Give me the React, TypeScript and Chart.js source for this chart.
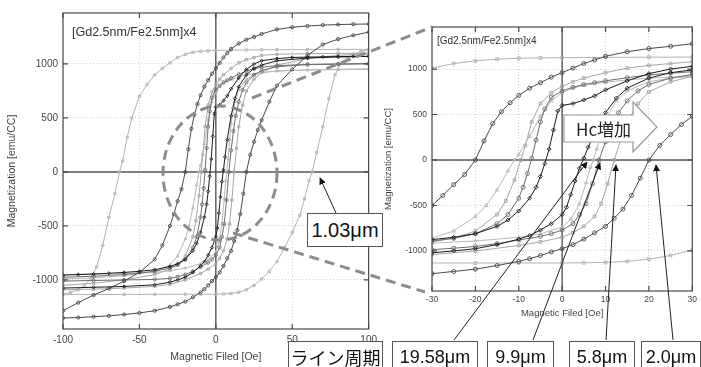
import React, { useEffect, useRef } from 'react';
import { Chart, registerables } from 'chart.js';

Chart.register(...registerables);

type P = [number, number];

// ---- Data: hysteresis loops, [H (Oe), M (emu/cc)] ----
// 19.58 μm line period (black)
const l1958Desc: P[] = [[100,1070],[90,1070],[80,1068],[70,1066],[60,1064],[50,1060],[40,1050],[30,1030],[25,1000],[20,950],[15,870],[10,770],[7.5,705],[5,660],[2.5,620],[0,600],[-1,540],[-2,330],[-3,120],[-4,-40],[-5,-180],[-6,-300],[-7.5,-420],[-10,-560],[-12.5,-660],[-15,-730],[-20,-810],[-25,-850],[-30,-875],[-40,-905],[-50,-920],[-60,-930],[-70,-938],[-80,-945],[-90,-950],[-100,-955]];
const l1958Asc: P[] = [[-100,-1075],[-80,-1068],[-60,-1060],[-40,-1045],[-30,-1020],[-25,-1000],[-20,-975],[-15,-930],[-10,-870],[-7.5,-830],[-5,-770],[-2.5,-700],[0,-600],[1,-520],[2,-380],[3,-230],[4,-90],[5,20],[6,140],[7.5,300],[10,520],[12.5,680],[15,790],[20,900],[25,960],[30,990],[40,1030],[60,1055],[80,1065],[100,1070]];
// 2.0 μm (dark gray)
const l20Desc: P[] = [[100,1370],[90,1368],[80,1365],[70,1360],[60,1352],[50,1340],[40,1320],[30,1278],[25,1250],[20,1225],[15,1190],[10,1140],[7.5,1100],[5,1060],[2.5,1010],[0,960],[-2.5,910],[-5,850],[-7.5,790],[-10,710],[-12,630],[-14,530],[-16,400],[-18,210],[-20,0],[-22.5,-160],[-25,-270],[-27.5,-390],[-30,-500],[-35,-680],[-40,-810],[-50,-930],[-60,-1010],[-70,-1080],[-80,-1140],[-90,-1210],[-100,-1285]];
const l20Asc: P[] = [[-100,-1352],[-90,-1348],[-80,-1340],[-70,-1332],[-60,-1320],[-50,-1305],[-40,-1285],[-30,-1250],[-25,-1225],[-20,-1200],[-15,-1160],[-10,-1115],[-7.5,-1085],[-5,-1050],[-2.5,-1010],[0,-975],[2.5,-930],[5,-870],[7.5,-800],[10,-730],[12,-640],[14,-540],[16,-390],[18,-200],[20,0],[22.5,160],[25,280],[27.5,390],[30,480],[35,650],[40,800],[50,950],[60,1080],[70,1180],[80,1230],[90,1265],[100,1295]];
// 9.9 μm (mid gray, circles)
const l99Desc: P[] = [[100,1000],[80,998],[60,995],[40,985],[30,970],[25,955],[20,935],[15,905],[10,870],[7.5,850],[5,830],[2.5,800],[0,760],[-2.5,690],[-4,560],[-5,420],[-6,220],[-7,20],[-8,-150],[-9,-300],[-10,-420],[-12.5,-600],[-15,-700],[-20,-810],[-25,-860],[-30,-890],[-40,-920],[-60,-950],[-80,-965],[-100,-975]];
const l99Asc: P[] = [[-100,-1010],[-80,-1005],[-60,-1000],[-40,-995],[-30,-985],[-25,-970],[-20,-950],[-15,-920],[-10,-880],[-5,-840],[-2.5,-810],[0,-770],[2.5,-700],[4,-600],[5.5,-480],[7,-260],[8.5,0],[10,200],[11.5,380],[13,520],[15,650],[17.5,760],[20,830],[25,900],[30,940],[40,975],[60,995],[80,1000],[100,1005]];
// 5.8 μm (light gray, squares)
const l58Desc: P[] = [[100,1100],[80,1098],[60,1095],[40,1090],[30,1080],[25,1060],[20,1040],[15,1010],[10,960],[5,900],[2.5,860],[0,810],[-2.5,740],[-5,620],[-7,420],[-8.5,160],[-9.5,0],[-11,-220],[-13,-450],[-15,-600],[-20,-780],[-25,-860],[-30,-900],[-40,-950],[-60,-1000],[-80,-1030],[-100,-1050]];
const l58Asc: P[] = [[-100,-1090],[-80,-1085],[-60,-1075],[-40,-1060],[-30,-1040],[-20,-1000],[-10,-940],[-5,-900],[0,-850],[2.5,-800],[5,-730],[7.5,-620],[9,-480],[10.5,-260],[12,0],[13.5,220],[15,420],[17.5,620],[20,750],[25,860],[30,920],[40,990],[60,1050],[80,1080],[100,1095]];
// extra loop (lighter gray, triangles)
const lxDesc: P[] = [[100,950],[80,948],[60,945],[40,935],[30,920],[20,900],[15,880],[10,855],[5,820],[2.5,790],[0,740],[-2.5,650],[-5,480],[-7.5,260],[-10,60],[-11,0],[-12.5,-120],[-15,-330],[-17.5,-500],[-20,-620],[-25,-780],[-30,-860],[-40,-920],[-60,-960],[-80,-980],[-100,-990]];
const lxAsc: P[] = [[-100,-950],[-80,-945],[-60,-940],[-40,-930],[-30,-915],[-20,-890],[-10,-850],[-5,-810],[0,-740],[2,-650],[4,-480],[5.5,-250],[6.5,-80],[7.2,0],[8,120],[9,300],[10,450],[12.5,650],[15,760],[20,860],[25,900],[30,920],[40,935],[60,945],[80,950],[100,955]];
// 1.03 μm (light gray, squares, large Hc)
const l103Desc: P[] = [[100,1135],[80,1135],[60,1134],[40,1132],[30,1131],[20,1130],[10,1128],[0,1125],[-5,1122],[-10,1118],[-15,1108],[-20,1090],[-25,1060],[-30,1010],[-35,960],[-40,900],[-45,810],[-50,700],[-55,500],[-58,320],[-61,100],[-63,0],[-66,-200],[-70,-420],[-74,-680],[-78,-880],[-82,-990],[-86,-1050],[-90,-1090],[-95,-1115],[-100,-1130]];
const l103Asc: P[] = [[-100,-1135],[-80,-1135],[-60,-1134],[-40,-1133],[-20,-1132],[-10,-1132],[0,-1132],[5,-1130],[10,-1125],[15,-1115],[20,-1090],[25,-1050],[30,-990],[35,-920],[40,-830],[45,-700],[50,-560],[55,-400],[58,-250],[61,-80],[63,0],[66,180],[70,420],[74,680],[78,900],[82,1010],[86,1060],[90,1090],[95,1115],[100,1130]];

const loops = [
  { desc: l1958Desc, asc: l1958Asc, color: '#1c1c1c', marker: 'rectRot' },
  { desc: l20Desc, asc: l20Asc, color: '#4a4a4a', marker: 'circle' },
  { desc: l99Desc, asc: l99Asc, color: '#6e6e6e', marker: 'circle' },
  { desc: lxDesc, asc: lxAsc, color: '#b8b8b8', marker: 'triangle' },
  { desc: l58Desc, asc: l58Asc, color: '#a6a6a6', marker: 'rect' },
  { desc: l103Desc, asc: l103Asc, color: '#b3b3b3', marker: 'rect' },
];

const leftXTicks = [-100, -50, 0, 50, 100];
const rightXTicks = [-30, -20, -10, 0, 10, 20, 30];
const yTicks = [-1000, -500, 0, 500, 1000];

const FONT = '"Liberation Sans", Arial, sans-serif';
const JFONT = '"Noto Sans CJK JP", "Liberation Sans", sans-serif';

const framePlugin = {
  id: 'frame',
  beforeDatasetsDraw(chart: any) {
    const { ctx, chartArea: a, scales } = chart;
    const x0 = scales.x.getPixelForValue(0);
    const y0 = scales.y.getPixelForValue(0);
    ctx.save();
    ctx.strokeStyle = '#5a5a5a';
    ctx.lineWidth = 1.4;
    ctx.beginPath();
    ctx.moveTo(x0, a.top); ctx.lineTo(x0, a.bottom);
    ctx.moveTo(a.left, y0); ctx.lineTo(a.right, y0);
    ctx.stroke();
    ctx.restore();
  },
  afterDraw(chart: any) {
    const { ctx, chartArea: a, scales } = chart;
    ctx.save();
    ctx.strokeStyle = '#4a4a4a';
    ctx.lineWidth = 1.2;
    ctx.strokeRect(a.left, a.top, a.right - a.left, a.bottom - a.top);
    const t = 5;
    ctx.beginPath();
    scales.x.ticks.forEach((tk: any) => {
      const px = scales.x.getPixelForValue(tk.value);
      ctx.moveTo(px, a.bottom); ctx.lineTo(px, a.bottom - t);
      ctx.moveTo(px, a.top); ctx.lineTo(px, a.top + t);
    });
    scales.y.ticks.forEach((tk: any) => {
      const py = scales.y.getPixelForValue(tk.value);
      ctx.moveTo(a.left, py); ctx.lineTo(a.left + t, py);
      ctx.moveTo(a.right, py); ctx.lineTo(a.right - t, py);
    });
    ctx.stroke();
    ctx.restore();
  },
};

function buildDatasets(radius: number) {
  return loops.flatMap((l) =>
    [l.desc, l.asc].map((branch) => ({
      data: branch.map(([x, y]) => ({ x, y })),
      showLine: true,
      borderColor: l.color,
      borderWidth: 1,
      pointStyle: l.marker,
      pointRadius: radius,
      pointBorderColor: l.color,
      pointBackgroundColor: 'rgba(0,0,0,0)',
      pointBorderWidth: 0.9,
      tension: 0,
    }))
  );
}

type Opt = {
  xMin: number; xMax: number; xTicks: number[];
  yMin: number; yMax: number;
  pad: { left: number; right: number; top: number; bottom: number };
  yW: number; xH: number;
  tickSize: number; titleSize: number; tickPadX: number; tickPadY: number;
  radius: number;
};

function makeChart(canvas: HTMLCanvasElement, o: Opt) {
  return new Chart(canvas, {
    type: 'scatter',
    data: { datasets: buildDatasets(o.radius) as any },
    plugins: [framePlugin as any],
    options: {
      animation: false,
      responsive: false,
      maintainAspectRatio: false,
      layout: { padding: o.pad },
      plugins: { legend: { display: false }, tooltip: { enabled: false } },
      scales: {
        x: {
          type: 'linear',
          min: o.xMin,
          max: o.xMax,
          afterBuildTicks: (s: any) => { s.ticks = o.xTicks.map((v) => ({ value: v })); },
          afterFit: (s: any) => { s.height = o.xH; },
          ticks: { color: '#444', font: { family: FONT, size: o.tickSize }, padding: o.tickPadX, maxRotation: 0, autoSkip: false, callback: (v: any) => String(v) },
          grid: { color: '#cfcfcf', drawTicks: false, lineWidth: 1 },
          border: { display: false, dash: [1, 2] },
          title: { display: true, text: 'Magnetic Filed [Oe]', color: '#444', font: { family: FONT, size: o.titleSize }, padding: 0 },
        },
        y: {
          type: 'linear',
          min: o.yMin,
          max: o.yMax,
          afterBuildTicks: (s: any) => { s.ticks = yTicks.map((v) => ({ value: v })); },
          afterFit: (s: any) => { s.width = o.yW; },
          ticks: { color: '#444', font: { family: FONT, size: o.tickSize }, padding: o.tickPadY, autoSkip: false, callback: (v: any) => String(v) },
          grid: { color: '#cfcfcf', drawTicks: false, lineWidth: 1 },
          border: { display: false, dash: [1, 2] },
          title: { display: true, text: 'Magnetization [emu/CC]', color: '#444', font: { family: FONT, size: o.titleSize }, padding: 0 },
        },
      },
    } as any,
  });
}

const boxStyle = (left: number, top: number, width: number, height: number, size: number, font: string): React.CSSProperties => ({
  position: 'absolute', left, top, width, height, boxSizing: 'border-box',
  border: '1px solid #555', background: '#fff', fontFamily: font, fontSize: size,
  color: '#111', display: 'flex', alignItems: 'center', justifyContent: 'center', whiteSpace: 'nowrap',
});

export default function App() {
  const leftRef = useRef<HTMLCanvasElement>(null);
  const rightRef = useRef<HTMLCanvasElement>(null);

  useEffect(() => {
    const c1 = makeChart(leftRef.current!, {
      xMin: -100, xMax: 100, xTicks: leftXTicks,
      yMin: -1454, yMax: 1472,
      pad: { left: 6, right: 3, top: 13, bottom: 4 },
      yW: 57, xH: 34, tickSize: 10, titleSize: 10.5, tickPadX: 5, tickPadY: 5, radius: 1.6,
    });
    const c2 = makeChart(rightRef.current!, {
      xMin: -30, xMax: 30, xTicks: rightXTicks,
      yMin: -1440, yMax: 1462,
      pad: { left: 1, right: 8, top: 27, bottom: 48 },
      yW: 49, xH: 28, tickSize: 8.5, titleSize: 9.5, tickPadX: 4, tickPadY: 5, radius: 2,
    });
    return () => { c1.destroy(); c2.destroy(); };
  }, []);

  const dash = { stroke: '#8c8c8c', strokeWidth: 3, strokeDasharray: '10 6', fill: 'none' };
  const arr = { stroke: '#222', strokeWidth: 1, markerEnd: 'url(#ah)' };

  return (
    <div style={{ position: 'absolute', left: 0, top: 0, width: 701, height: 367, overflow: 'hidden', background: '#fff' }}>
      <canvas ref={leftRef} width={382} height={367} style={{ position: 'absolute', left: 0, top: 0, width: 382, height: 367 }} />
      <canvas ref={rightRef} width={319} height={367} style={{ position: 'absolute', left: 382, top: 0, width: 319, height: 367 }} />

      <div style={{ position: 'absolute', left: 72, top: 25, fontFamily: FONT, fontSize: 12.5, color: '#333', whiteSpace: 'nowrap' }}>[Gd2.5nm/Fe2.5nm]x4</div>
      <div style={{ position: 'absolute', left: 437, top: 35, fontFamily: FONT, fontSize: 10, color: '#333', whiteSpace: 'nowrap' }}>[Gd2.5nm/Fe2.5nm]x4</div>

      <svg width={701} height={367} style={{ position: 'absolute', left: 0, top: 0, pointerEvents: 'none' }}>
        <defs>
          <marker id="ah" viewBox="0 0 10 10" refX="9" refY="5" markerWidth="7" markerHeight="7" orient="auto" markerUnits="userSpaceOnUse">
            <path d="M0,0 L10,5 L0,10 z" fill="#111" />
          </marker>
        </defs>
        <ellipse cx={220} cy={173} rx={57} ry={67} {...dash} />
        <line x1={252} y1={98} x2={432} y2={27} {...dash} />
        <line x1={233} y1={233} x2={425} y2={292} {...dash} />
        <polygon points="564,115 633,115 633,102 657,127 633,152 633,142 564,142" fill="#fff" stroke="#999" strokeWidth={1.2} />
        <line x1={336} y1={213} x2={320} y2={178} {...arr} />
        <line x1={454} y1={340} x2={587} y2={162} {...arr} />
        <line x1={533} y1={340} x2={600} y2={163} {...arr} />
        <line x1={606} y1={340} x2={616} y2={165} {...arr} />
        <line x1={673} y1={340} x2={656} y2={165} {...arr} />
      </svg>

      <div style={{ position: 'absolute', left: 576, top: 115, height: 26, display: 'flex', alignItems: 'center', fontFamily: JFONT, fontSize: 17, color: '#222', whiteSpace: 'nowrap' }}>
        Hc増加
      </div>

      <div style={boxStyle(307, 213, 76, 34, 20, FONT)}>1.03μm</div>
      <div style={boxStyle(288, 341, 95, 32, 18, JFONT)}>ライン周期</div>
      <div style={boxStyle(392, 341, 86, 32, 18, FONT)}>19.58μm</div>
      <div style={boxStyle(487, 341, 67, 32, 18, FONT)}>9.9μm</div>
      <div style={boxStyle(569, 341, 66, 32, 18, FONT)}>5.8μm</div>
      <div style={boxStyle(641, 341, 60, 32, 18, FONT)}>2.0μm</div>
    </div>
  );
}
